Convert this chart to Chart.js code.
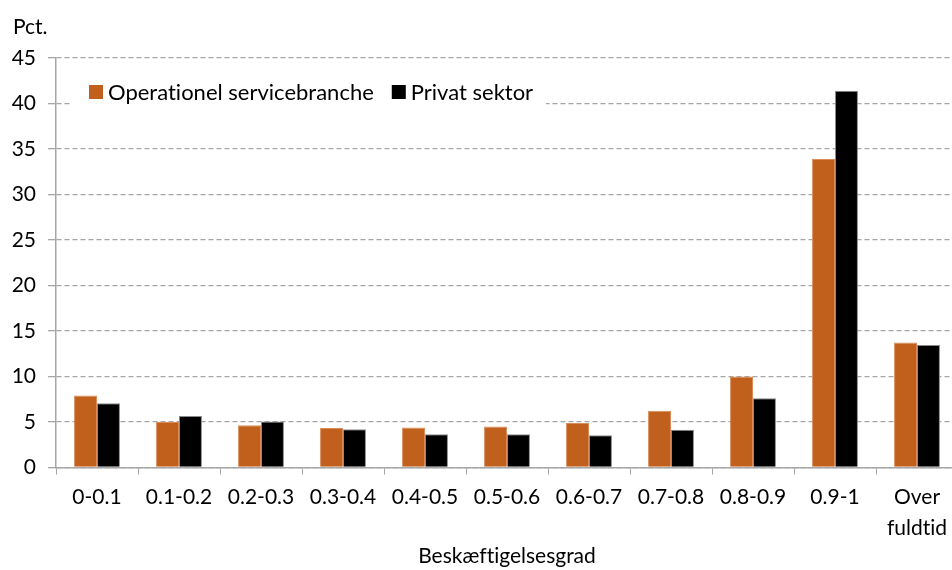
<!DOCTYPE html>
<html>
<head>
<meta charset="utf-8">
<script src="https://cdn.jsdelivr.net/npm/chart.js@4"></script>
<style>
  html, body { margin: 0; padding: 0; background: #fff; overflow: hidden; }
  #wrap { width: 958px; height: 570px; position: relative; }
</style>
</head>
<body>
<div id="wrap"><canvas id="c"></canvas></div>
<script>
const categories = ['0-0.1', '0.1-0.2', '0.2-0.3', '0.3-0.4', '0.4-0.5', '0.5-0.6', '0.6-0.7', '0.7-0.8', '0.8-0.9', '0.9-1', ['Over', 'fuldtid']];
const operationel = [7.9, 5.0, 4.65, 4.35, 4.4, 4.5, 4.9, 6.25, 10.0, 33.9, 13.75];
const privat = [7.05, 5.65, 5.05, 4.2, 3.65, 3.65, 3.55, 4.15, 7.6, 41.4, 13.45];
const seriesNames = ['Operationel servicebranche', 'Privat sektor'];
const yTitle = 'Pct.';
const xTitle = 'Beskæftigelsesgrad';

const FONT = 'Lato, "Open Sans", sans-serif';
const ORANGE = '#C0601C';
const BLACK = '#000000';
const GRID = '#A6A6A6';

const legendPlugin = {
  id: 'insideLegend',
  beforeDraw(chart) {
    try { chart.ctx.textRendering = 'optimizeSpeed'; } catch (e) {}
  },
  afterDatasetsDraw(chart) {
    const ctx = chart.ctx;
    const ds = chart.data.datasets;
    ctx.save();
    try { ctx.textRendering = 'optimizeSpeed'; } catch (e) {}
    ctx.font = '22px ' + FONT;
    ctx.fillStyle = '#fff';
    ctx.fillRect(72, 78, 474, 30);
    let x = 89;
    const cy = 92;
    ds.forEach((d, i) => {
      ctx.fillStyle = d.backgroundColor;
      ctx.fillRect(x, cy - 7, 14, 14);
      x += 19;
      ctx.fillStyle = '#000';
      ctx.textBaseline = 'middle';
      ctx.textAlign = 'left';
      ctx.fillText(d.label, x, cy + 1);
      x += ctx.measureText(d.label).width + 18;
    });
    ctx.font = '21px ' + FONT;
    ctx.fillStyle = '#000';
    ctx.textBaseline = 'middle';
    ctx.fillText(yTitle, 13, 27);
    ctx.restore();
  }
};

new Chart(document.getElementById('c'), {
  type: 'bar',
  data: {
    labels: categories,
    datasets: [
      { label: seriesNames[0], data: operationel, backgroundColor: ORANGE, borderColor: '#D98C5A', borderWidth: 1, borderSkipped: 'bottom' },
      { label: seriesNames[1], data: privat, backgroundColor: BLACK, borderColor: '#8a8a8a', borderWidth: 1, borderSkipped: 'bottom' }
    ]
  },
  options: {
    responsive: true,
    maintainAspectRatio: false,
    animation: false,
    devicePixelRatio: 1,
    layout: { padding: { top: 58, left: 0, right: 0, bottom: 0 } },
    datasets: { bar: { categoryPercentage: 0.56, barPercentage: 1.0 } },
    plugins: {
      legend: { display: false },
      tooltip: { enabled: false },
      title: { display: false }
    },
    scales: {
      x: {
        afterFit(scale) { scale.height = 102.5; },
        grid: { display: true, drawOnChartArea: false, drawTicks: true, tickLength: 7, color: GRID, offset: true },
        border: { display: true, color: GRID, width: 1.5 },
        ticks: { color: '#000', font: { family: FONT, size: 21, lineHeight: 1.48 }, padding: 7, maxRotation: 0, autoSkip: false },
        title: { display: true, text: xTitle, color: '#000', font: { family: FONT, size: 21, lineHeight: 1.2 }, padding: { top: 0, bottom: 1 } }
      },
      y: {
        min: 0, max: 45,
        afterFit(scale) { scale.width = 56; },
        grid: { color: GRID, lineWidth: 1.3, tickLength: 8, tickColor: GRID, drawTicks: true },
        border: { display: true, color: GRID, width: 1.5, dash: [5, 3] },
        ticks: { stepSize: 5, color: '#000', font: { family: FONT, size: 21 }, padding: 12 }
      }
    }
  },
  plugins: [legendPlugin]
});
</script>
</body>
</html>
